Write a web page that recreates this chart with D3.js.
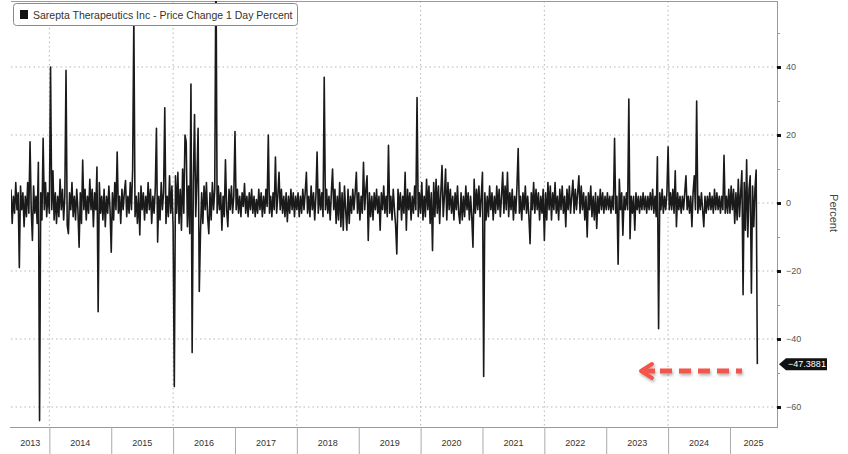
<!DOCTYPE html>
<html><head><meta charset="utf-8">
<script src="https://cdn.jsdelivr.net/npm/d3@7"></script>
<style>
html,body{margin:0;padding:0;background:#fff;}
svg{display:block;font-family:"Liberation Sans",Arial,sans-serif;}
</style></head>
<body><svg id="chart" width="848" height="454"></svg>
<script>
// ---- data (approx. weekly 1-day % changes) ----
const seriesName = "Sarepta Therapeutics Inc - Price Change 1 Day Percent";
const lastValue = -47.3881;
const yearLabels = ["2013","2014","2015","2016","2017","2018","2019","2020","2021","2022","2023","2024","2025"];
const yTicks = [40,20,0,-20,-40,-60];
const yMinorTicks = [50,30,10,-10,-30,-50];
const gridYears = [2014,2016,2018,2020,2022,2024];

const chg2013 = [4,-6,2,-3,6,-2,3,-19,5,-2,3,-7,2,-4,6,-3,18,-2,-11,5,-3,2,-6,12,-64,3,-5,19,-2,6,-4,3];
const chg2014 = [-3,40,-2,9.5,-5,3,-6,2,-4,7,-2,4,-5,2,39,-6.5,-9,3,-2,6,-4,2,-5,4,-2,-13,3,-6,12.6,-2,4,-5,2,-3,7,-2,4,-7,3,-2,10.6,-32,6,-3,2,-5,4,-7,2,-3,5,-2];
const chg2015 = [-14.5,3,-5,6,-2,15,-3,2,-6,4,-2,3,6.6,-4,2,-3,6,-2,10,55,-4,2,-6,3,-9.4,5,-2,3,-5,2,-3,6,-2,4,-6,2,-3,4,22,-11.5,2,-5,6,-2,3,28,-6,2,-4,8,-3,5];
const chg2016 = [-7,-54,8,-3,9,-6,4,-8,10,-3,20,18,-7,5,-9,35,-44,6,26,-4,7,22,-26,-9,3,-6,5,-2,6,-4,-9,3,-5,6,-2,4,73,-3,5,-2,3,-8,2,-4,12.7,-2,-7,4,-2,5,-3,2];
const chg2017 = [21,-2,4,-3,2,-4,3,-1,5.7,-3,2,-4,3,-2,4,-3,2,-4,1,-3,4,-2,3,-4,2,-3,4,-1,20,-3,2,-4,3,-2,13.5,-3,2,9,-2,4,-3,2,-4,3,-5.5,2,-3,4,-2,3,-4,2];
const chg2018 = [-2,3,-4,2,-3,4,-2,3,9,-3,2,-4,5,-2,3,-5,2,15,-3,4,-2,3,-4,37,-2,4,-3,2,-5,3,10,-2,4,-6,2,-5,6,-7,3,-8,5,-2,-8,4,-6,2,-3,4,-2,3,9,-3];
const chg2019 = [3,-5,2,-3,12,-2,4,8,-11,3,-4,2,-5,3,-2,4,-3,2,-8,3,-2,5,-3,2,-4,17,-3,2,-5,4,-2,-6.5,-15,4,-2,3,-5,2,-3,9,-8,4,-2,3,-5,2,-3,5,-2,31,-4,3];
const chg2020 = [-3,6,-5,2,-4,7,-2,5,-6,3,-14,6,-4,7,-3,5,-6,3,11,-4,2,10,-5,6,-2,4,-3,2,-5,3,-2,5,-3,-6,3,-5,2,-4,5,-2,3,-5,2,-4,-13,7,-3,4,-2,5,-4,2];
const chg2021 = [9,-51,3,-5,2,-4,5,-2,3,-5,2,-3,5,-2,4,-4,2,9,-3,5,-2,9,-4,3,-2,4,-5,2,-3,5,16,-3,2,-5,3,-2,5,-3,2,-4,-12,3,-2,6,-3,4,-2,3,-5,2,-3,4];
const chg2022 = [-11,3,-5,6,-2,5,-5,3,-2,6,-3,2,-5,4,-2,5,-3,2,-7,4,-2,5,-3,2,6.7,-3,4,-2,3,8,-3,5,-2,3,-5,2,-10,3,-2,5,-4,2,-5,3,-7.5,2,-3,4,-2,3,-3,2];
const chg2023 = [-2,3,-2,2,-3,2,-2,19,-3,2,-18,7,-2,3,-9.5,2,-2,3,-2,30.6,-10.5,2,-3,2,-8,3,-2,2,-3,2,-2,3,-2,2,-3,2,-2,3,-2,4,-3,2,-4,13.6,-37,3,-2,4,-3,2,-2,3];
const chg2024 = [16.5,-2,3,-2,4,-3,9.5,-7,3,-2,2,-3,2,-2,3,8,-2,2,-3,2,-7,3,8,-2,30,-3,2,-2,3,-2,-7,2,-3,2,-2,3,-2,2,-3,4,-2,3,-2,2,-3,2,-2,14,-3,2,-3,4];
const chg2025 = [-3,5,-2,4,-6,3,-5,7,-4,3,9.5,-27,6,-8,12.7,-10,4,8,-26.5,5,-7,4,9.7,lastValue];

const yearSeries = [
  {start:2013.38, vals:chg2013},{start:2014, vals:chg2014},{start:2015, vals:chg2015},
  {start:2016, vals:chg2016},{start:2017, vals:chg2017},{start:2018, vals:chg2018},
  {start:2019, vals:chg2019},{start:2020, vals:chg2020},{start:2021, vals:chg2021},
  {start:2022, vals:chg2022},{start:2023, vals:chg2023},{start:2024, vals:chg2024},
  {start:2025, vals:chg2025}
];
const data = [];
yearSeries.forEach(s => s.vals.forEach((v,i) => data.push({t:s.start + i/52, v:v})));

// ---- layout ----
const L = 11, R = 777, T = 1, B = 427;
const svg = d3.select("#chart");
const x = d3.scaleLinear().domain([2013.38, 2025.76]).range([L, R]);
const y = d3.scaleLinear().domain([-65.88, 59.41]).range([B, T]);

svg.append("defs").append("clipPath").attr("id","plotclip")
  .append("rect").attr("x",L).attr("y",T).attr("width",R-L).attr("height",B-T);

// grid
const grid = svg.append("g");
grid.selectAll(".hg").data(yTicks).join("line")
  .attr("x1",L).attr("x2",R).attr("y1",d=>y(d)).attr("y2",d=>y(d))
  .attr("stroke","#b5b5b5").attr("stroke-width",1).attr("stroke-dasharray","1.5,3");
grid.selectAll(".vg").data(gridYears).join("line")
  .attr("x1",d=>x(d)).attr("x2",d=>x(d)).attr("y1",T).attr("y2",B)
  .attr("stroke","#b5b5b5").attr("stroke-width",1).attr("stroke-dasharray","1.5,3");

// frame
svg.append("line").attr("x1",L).attr("x2",R+1).attr("y1",T+0.5).attr("y2",T+0.5).attr("stroke","#9a9a9a");
svg.append("line").attr("x1",R+0.5).attr("x2",R+0.5).attr("y1",T).attr("y2",B).attr("stroke","#9a9a9a");
svg.append("line").attr("x1",L-1).attr("x2",R+1).attr("y1",B+0.5).attr("y2",B+0.5).attr("stroke","#9a9a9a");

// series line
const line = d3.line().x(d=>x(d.t)).y(d=>y(d.v));
svg.append("path").datum(data).attr("clip-path","url(#plotclip)")
  .attr("d",line).attr("fill","none").attr("stroke","#1a1a1a").attr("stroke-width",1.6)
  .attr("stroke-linejoin","round");

// right y axis
const yAxis = d3.axisRight(y).tickValues(yTicks).tickSize(4).tickPadding(5).tickFormat(d3.format("d"));
const ya = svg.append("g").attr("transform",`translate(${R},0)`).call(yAxis);
ya.select(".domain").remove();
ya.selectAll(".tick line").attr("stroke","#111").attr("stroke-width",3);
ya.selectAll(".tick text").attr("fill","#555").attr("font-size","9px")
  .attr("font-family","Liberation Sans, Arial, sans-serif");
const yAxisMinor = d3.axisRight(y).tickValues(yMinorTicks).tickSize(3).tickFormat("");
const ym = svg.append("g").attr("transform",`translate(${R},0)`).call(yAxisMinor);
ym.select(".domain").remove();
ym.selectAll(".tick line").attr("stroke","#999");

svg.append("text").attr("transform","translate(830,213) rotate(90)")
  .attr("text-anchor","middle").attr("font-size","11px").attr("fill","#444").text("Percent");

// bottom x axis (year bands)
const bounds = d3.range(2014, 2026);
svg.append("g").selectAll("line").data(bounds).join("line")
  .attr("x1",d=>x(d)+0.5).attr("x2",d=>x(d)+0.5).attr("y1",B).attr("y2",454)
  .attr("stroke","#aaa");
svg.append("g").selectAll("text").data(yearLabels).join("text")
  .attr("x",(d,i)=>{ const a = Math.max(+d, 2013.38), b = Math.min(+d+1, 2025.76); return x((a+b)/2); })
  .attr("y",446).attr("text-anchor","middle").attr("font-size","9px").attr("fill","#333")
  .text(d=>d);

// last value label
const ly = y(lastValue);
const lab = svg.append("g");
lab.append("path").attr("d",`M${R+2},${ly} L${R+9},${ly-6} L${R+50},${ly-6} L${R+50},${ly+6} L${R+9},${ly+6} Z`)
  .attr("fill","#111");
lab.append("text").attr("x",R+30).attr("y",ly+3.3).attr("text-anchor","middle")
  .attr("font-size","9px").attr("fill","#fff").text(d3.format(".4f")(lastValue));

// red dashed arrow
const defs = svg.select("defs");
const f = defs.append("filter").attr("id","sh").attr("x","-20%").attr("y","-50%").attr("width","140%").attr("height","200%");
f.append("feDropShadow").attr("dx",1).attr("dy",2).attr("stdDeviation",1.5).attr("flood-color","#000").attr("flood-opacity",0.3);
const arr = svg.append("g").attr("filter","url(#sh)");
arr.append("line").attr("x1",660).attr("x2",742).attr("y1",371).attr("y2",371)
  .attr("stroke","#f2544c").attr("stroke-width",5).attr("stroke-dasharray","12,7");
arr.append("path").attr("d","M652,364 L641,371 L652,378").attr("fill","none")
  .attr("stroke","#f2544c").attr("stroke-width",4).attr("stroke-linecap","round").attr("stroke-linejoin","round");
arr.append("line").attr("x1",642).attr("x2",655).attr("y1",371).attr("y2",371)
  .attr("stroke","#f2544c").attr("stroke-width",5);

// legend
const lg = svg.append("g");
lg.append("rect").attr("x",13.5).attr("y",3.5).attr("width",284).attr("height",22).attr("rx",3)
  .attr("fill","#fff").attr("stroke","#8a8a8a");
lg.append("rect").attr("x",20).attr("y",10).attr("width",8).attr("height",9).attr("fill","#111");
lg.append("text").attr("x",33).attr("y",18.5).attr("font-size","10.5px").attr("fill","#333")
  .text(seriesName);
</script></body></html>
